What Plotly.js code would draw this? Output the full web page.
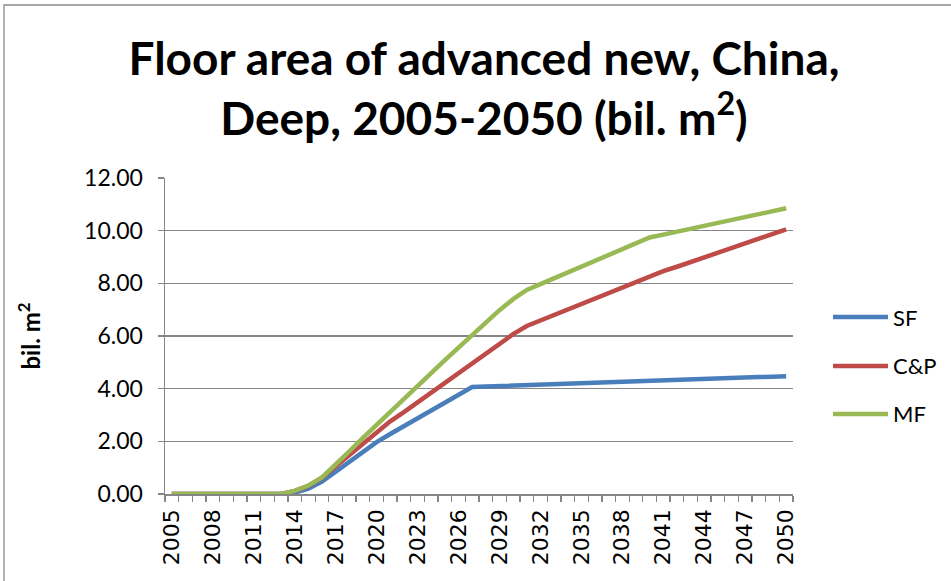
<!DOCTYPE html>
<html>
<head>
<meta charset="utf-8">
<script src="https://cdn.plot.ly/plotly-3.0.1.min.js"></script>
<style>
  html, body { margin: 0; padding: 0; background: #ffffff; }
  #chart { width: 951px; height: 581px; }
</style>
</head>
<body>
<div id="chart"></div>
<script>
// Years on the horizontal axis
const years = [2005, 2006, 2007, 2008, 2009, 2010, 2011, 2012, 2013, 2014,
               2015, 2016, 2017, 2018, 2019, 2020, 2021, 2022, 2023, 2024,
               2025, 2026, 2027, 2028, 2029, 2030, 2031, 2032, 2033, 2034,
               2035, 2036, 2037, 2038, 2039, 2040, 2041, 2042, 2043, 2044,
               2045, 2046, 2047, 2048, 2049, 2050];

// Labelled years (every third year)
const tickYears = [2005, 2008, 2011, 2014, 2017, 2020, 2023, 2026, 2029, 2032,
                   2035, 2038, 2041, 2044, 2047, 2050];
const tickLabels = ["2005", "2008", "2011", "2014", "2017", "2020", "2023", "2026",
                    "2029", "2032", "2035", "2038", "2041", "2044", "2047", "2050"];

// Floor area, bil. m2
const sf = [0, 0, 0, 0, 0, 0, 0, 0, 0, 0.05,
            0.20, 0.47, 0.85, 1.24, 1.62, 1.97, 2.28, 2.58, 2.87, 3.17,
            3.46, 3.76, 4.06, 4.08, 4.10, 4.12, 4.14, 4.15, 4.17, 4.19,
            4.21, 4.22, 4.24, 4.26, 4.28, 4.29, 4.31, 4.33, 4.35, 4.37,
            4.38, 4.40, 4.42, 4.44, 4.45, 4.47];

const cp = [0, 0, 0, 0, 0, 0, 0, 0, 0, 0.12,
            0.31, 0.62, 1.05, 1.52, 1.95, 2.38, 2.76, 3.11, 3.48, 3.85,
            4.22, 4.59, 4.96, 5.33, 5.70, 6.07, 6.38, 6.59, 6.80, 7.01,
            7.22, 7.43, 7.65, 7.86, 8.07, 8.28, 8.46, 8.63, 8.81, 8.99,
            9.17, 9.34, 9.52, 9.70, 9.87, 10.05];

const mf = [0, 0, 0, 0, 0, 0, 0, 0, 0, 0.12,
            0.32, 0.63, 1.10, 1.62, 2.13, 2.63, 3.10, 3.62, 4.12, 4.60,
            5.08, 5.56, 6.04, 6.52, 6.98, 7.40, 7.75, 7.97, 8.19, 8.41,
            8.63, 8.85, 9.08, 9.30, 9.52, 9.74, 9.85, 9.96, 10.07, 10.18,
            10.30, 10.41, 10.52, 10.63, 10.74, 10.85];

const seriesNames = ["SF", "C&P", "MF"];
const seriesColors = ["#4A7EBB", "#BE4B48", "#98B954"];
const seriesValues = [sf, cp, mf];

const gridGray = "#868686";
const bodyFont = "Lato, 'Liberation Sans', sans-serif";
const lineWidth = 4.5;

const traces = seriesValues.map((vals, k) => ({
  type: "scatter",
  mode: "lines",
  x: years,
  y: vals,
  name: seriesNames[k],
  line: { color: seriesColors[k], width: lineWidth, shape: "linear" },
  hoverinfo: "x+y+name"
}));

// Key on the right: a short line sample and the series name, one row per series
const keyX0 = 1.0637, keyX1 = 1.1513, keyTextX = 1.1561;
const keyRows = [0.5601, 0.4051, 0.2532];

const keyShapes = seriesNames.map((nm, k) => ({
  type: "line",
  xref: "paper", yref: "paper",
  x0: keyX0, x1: keyX1, y0: keyRows[k], y1: keyRows[k],
  line: { color: seriesColors[k], width: lineWidth, cap: "round" }
}));

const keyLabels = seriesNames.map((nm, k) => ({
  xref: "paper", yref: "paper",
  x: keyTextX, y: keyRows[k],
  xanchor: "left", yanchor: "middle",
  text: nm.replace("&", "&amp;"),
  showarrow: false,
  font: { family: bodyFont, size: 22, color: "#000000" }
}));

const layout = {
  width: 951,
  height: 581,
  paper_bgcolor: "#ffffff",
  plot_bgcolor: "#ffffff",
  margin: { l: 165, r: 158, t: 178, b: 87, pad: 0 },
  showlegend: false,
  title: {
    text: "Floor area of advanced new, China,<br>Deep, 2005-2050 (bil. m<sup>2</sup>)",
    font: { family: bodyFont, size: 46, color: "#000000", weight: "bold" },
    x: 0.508,
    xanchor: "center",
    xref: "paper",
    y: 0.871,
    yanchor: "top",
    yref: "container"
  },
  xaxis: {
    type: "linear",
    range: [2004.5, 2050.5],
    tickmode: "array",
    tickvals: tickYears,
    ticktext: tickLabels,
    tickangle: -90,
    ticks: "outside",
    ticklen: 5,
    tickcolor: "rgba(0,0,0,0)",
    tickfont: { family: "'DejaVu Sans', sans-serif", size: 22, color: "#000000" },
    showgrid: false,
    zeroline: false,
    showline: true,
    linecolor: gridGray,
    linewidth: 1.5,
    minor: {
      ticks: "outside",
      ticklen: 6,
      tickcolor: gridGray,
      tickwidth: 1.3,
      tick0: 2004.5,
      dtick: 1,
      showgrid: false
    },
    fixedrange: true
  },
  yaxis: {
    range: [0, 12],
    dtick: 2,
    tick0: 0,
    tickformat: ".2f",
    ticks: "outside",
    ticklen: 6,
    tickcolor: gridGray,
    tickwidth: 1.3,
    ticklabelstandoff: 10,
    tickfont: { family: bodyFont, size: 23, color: "#000000" },
    showgrid: true,
    gridcolor: gridGray,
    gridwidth: 1.3,
    zeroline: false,
    showline: true,
    linecolor: gridGray,
    linewidth: 1.5,
    title: {
      text: "bil. m<sup>2</sup>",
      font: { family: bodyFont, size: 24, color: "#000000", weight: "bold" },
      standoff: 36
    },
    fixedrange: true
  },
  shapes: [{
    type: "rect",
    xref: "paper",
    yref: "paper",
    x0: -0.2564, x1: 1.5,
    y0: -0.6, y1: 1.5475,
    line: { color: "#8a8a8a", width: 1.3 },
    fillcolor: "rgba(0,0,0,0)",
    layer: "below"
  }].concat(keyShapes),
  annotations: keyLabels
};

Plotly.newPlot("chart", traces, layout, { displayModeBar: false, staticPlot: true });
</script>
</body>
</html>
